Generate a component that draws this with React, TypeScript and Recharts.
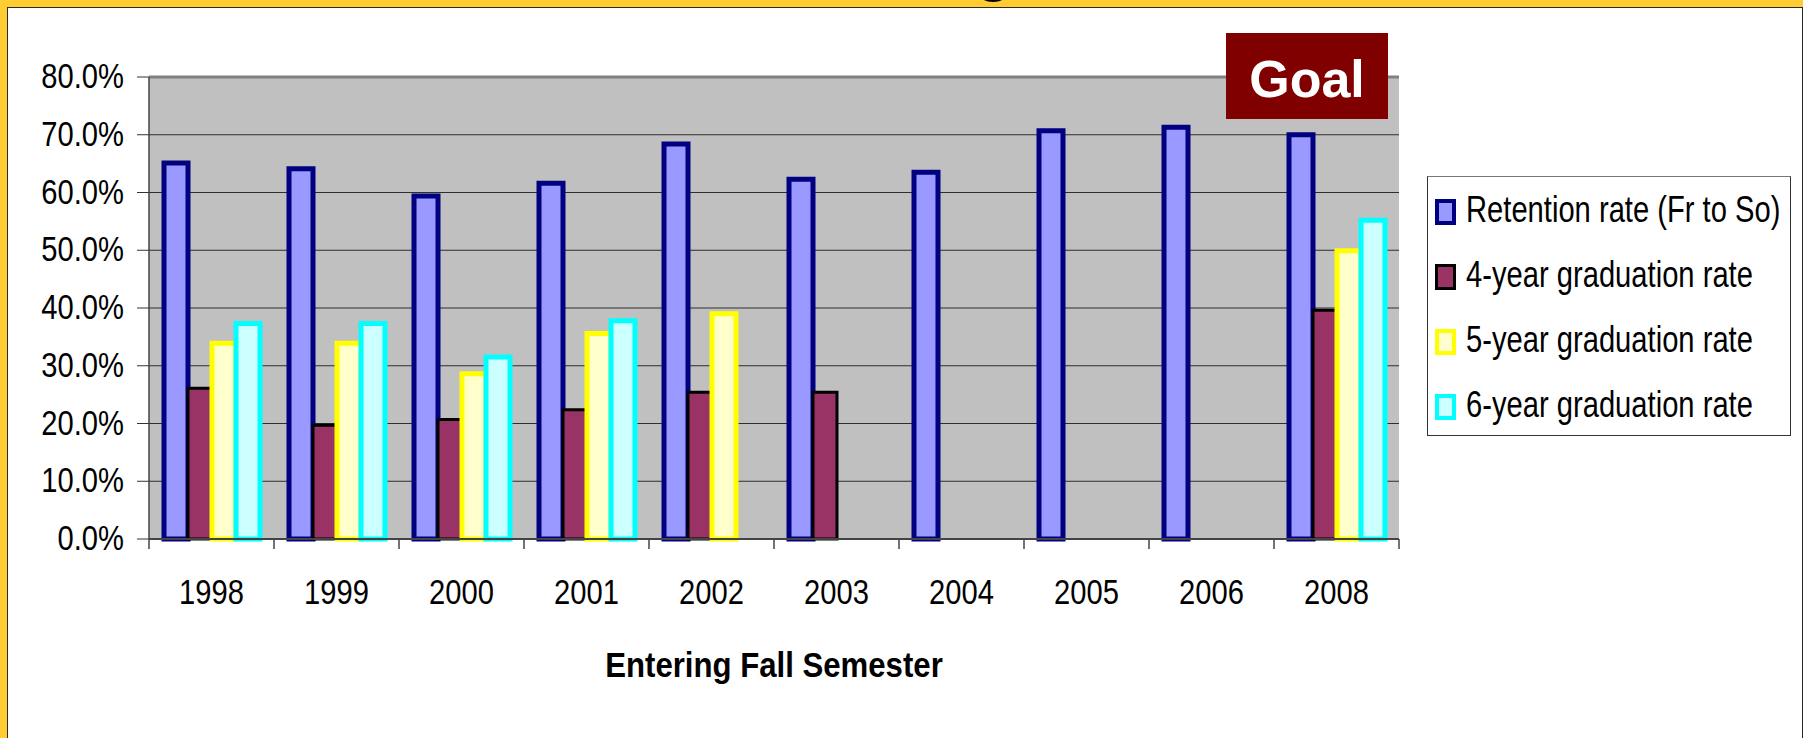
import { Bar, BarChart, CartesianGrid, Label, Legend, ReferenceLine, XAxis, YAxis } from "recharts";

const FONT = "'Liberation Sans', Arial, sans-serif";

const years = ["1998", "1999", "2000", "2001", "2002", "2003", "2004", "2005", "2006", "2008"];
const retention = [65.1, 64.1, 59.4, 61.6, 68.4, 62.3, 63.5, 70.7, 71.3, 70.0];
const fourYear = [26.1, 19.7, 20.7, 22.4, 25.4, 25.4, null, null, null, 39.6];
const fiveYear = [33.9, 33.9, 28.6, 35.6, 39.0, null, null, null, null, 49.9];
const sixYear = [37.3, 37.3, 31.5, 37.8, null, null, null, null, null, 55.2];
const yTicks = [0, 10, 20, 30, 40, 50, 60, 70, 80];

const series = [
  { key: "retention", name: "Retention rate (Fr to So)", fill: "#9999ff", stroke: "#000080", sw: 5 },
  { key: "fourYear", name: "4-year graduation rate", fill: "#993366", stroke: "#000000", sw: 3 },
  { key: "fiveYear", name: "5-year graduation rate", fill: "#ffffcc", stroke: "#ffff00", sw: 5 },
  { key: "sixYear", name: "6-year graduation rate", fill: "#ccffff", stroke: "#00ffff", sw: 5 },
];

const data = years.map((year, i) => ({
  year,
  retention: retention[i],
  fourYear: fourYear[i],
  fiveYear: fiveYear[i],
  sixYear: sixYear[i],
}));

function YTick(props: any) {
  const { x, y, payload } = props;
  return (
    <g transform={`translate(${x},${y})`}>
      <text transform="scale(0.81,1)" textAnchor="end" dy={11} fontSize={36} fontFamily={FONT} fill="#000">
        {`${Number(payload.value).toFixed(1)}%`}
      </text>
    </g>
  );
}

function XTick(props: any) {
  const { x, y, payload, index, visibleTicksCount, width } = props;
  const count = visibleTicksCount || years.length;
  const band = (width || 1250) / count;
  const left = x - band / 2;
  return (
    <g>
      <line x1={left} x2={left} y1={y} y2={y + 10} stroke="#444" strokeWidth={1.5} />
      {index === count - 1 && (
        <line x1={left + band} x2={left + band} y1={y} y2={y + 10} stroke="#444" strokeWidth={1.5} />
      )}
      <g transform={`translate(${x},${y + 65})`}>
        <text transform="scale(0.81,1)" textAnchor="middle" fontSize={36} fontFamily={FONT} fill="#000">
          {payload.value}
        </text>
      </g>
    </g>
  );
}

function AxisTitle(props: any) {
  const vb = props.viewBox || { x: 149, y: 539, width: 1250 };
  return (
    <g transform={`translate(${vb.x + vb.width / 2},${vb.y + 138})`}>
      <text transform="scale(0.89,1)" textAnchor="middle" fontSize={35} fontWeight="bold" fontFamily={FONT} fill="#000">
        Entering Fall Semester
      </text>
    </g>
  );
}

function LegendBox() {
  return (
    <div
      style={{
        width: 364,
        height: 260,
        boxSizing: "border-box",
        border: "1px solid #333",
        borderTopColor: "#777",
        background: "#fff",
        fontFamily: FONT,
      }}
    >
      {series.map((s) => (
        <div key={s.key} style={{ height: 65, display: "flex", alignItems: "center", paddingLeft: 7 }}>
          <span
            style={{
              width: 21,
              height: 26,
              boxSizing: "border-box",
              border: `${s.sw === 3 ? 3 : 4}px solid ${s.stroke}`,
              background: s.fill,
              display: "inline-block",
              flex: "none",
              marginTop: 4,
            }}
          />
          <span
            style={{
              marginLeft: 10,
              fontSize: 36,
              lineHeight: "65px",
              whiteSpace: "nowrap",
              display: "inline-block",
              transform: "scaleX(0.81)",
              transformOrigin: "left center",
              color: "#000",
            }}
          >
            {s.name}
          </span>
        </div>
      ))}
    </div>
  );
}

export default function App() {
  return (
    <div style={{ position: "relative", width: 1803, height: 738, background: "#fff", overflow: "hidden" }}>
      <style>{"body{margin:0}"}</style>
      <BarChart
        width={1803}
        height={738}
        data={data}
        margin={{ top: 77, right: 404, bottom: 0, left: 0 }}
        barCategoryGap="12%"
        barGap={0}
      >
        <CartesianGrid vertical={false} fill="#c0c0c0" fillOpacity={1} stroke="#2e2e2e" strokeWidth={1.2} />
        <XAxis
          dataKey="year"
          height={199}
          axisLine={{ stroke: "#444", strokeWidth: 2 }}
          tickLine={false}
          tickSize={0}
          tickMargin={0}
          tick={<XTick />}
          interval={0}
        >
          <Label content={<AxisTitle />} />
        </XAxis>
        <YAxis
          width={149}
          domain={[0, 80]}
          ticks={yTicks}
          interval={0}
          axisLine={{ stroke: "#444", strokeWidth: 1.5 }}
          tickLine={{ stroke: "#333" }}
          tickSize={12}
          tickMargin={13}
          tick={<YTick />}
        />
        <YAxis
          yAxisId="r"
          orientation="right"
          width={0}
          domain={[0, 80]}
          tick={false}
          tickLine={false}
          axisLine={{ stroke: "#808080", strokeWidth: 2.5 }}
        />
        <ReferenceLine y={80} stroke="#808080" strokeWidth={3} />
        {series.map((s) => (
          <Bar
            key={s.key}
            dataKey={s.key}
            name={s.name}
            fill={s.fill}
            stroke={s.stroke}
            strokeWidth={s.sw}
            isAnimationActive={false}
          />
        ))}
        <Legend
          layout="vertical"
          align="center"
          verticalAlign="middle"
          content={() => <LegendBox />}
          wrapperStyle={{ left: 1427, top: 176, width: 364, height: 260 }}
        />
      </BarChart>

      <div
        style={{
          position: "absolute",
          left: 1226,
          top: 33,
          width: 162,
          height: 86,
          boxSizing: "border-box",
          paddingTop: 5,
          background: "#800000",
          color: "#fff",
          fontFamily: FONT,
          fontWeight: "bold",
          fontSize: 52,
          display: "flex",
          alignItems: "center",
          justifyContent: "center",
        }}
      >
        Goal
      </div>

      <div style={{ position: "absolute", left: 0, top: 0, width: 1803, height: 7, background: "#ffcc33" }} />
      <div style={{ position: "absolute", left: 0, top: 0, width: 7, height: 738, background: "#ffcc33" }} />
      <div style={{ position: "absolute", left: 7, top: 7, width: 1796, height: 1, background: "#2a2a1a" }} />
      <div style={{ position: "absolute", left: 7, top: 7, width: 1, height: 731, background: "#2a2a1a" }} />
      <div style={{ position: "absolute", left: 1802, top: 7, width: 1, height: 731, background: "#2a2a1a" }} />
      <svg style={{ position: "absolute", left: 960, top: 0 }} width={60} height={7}>
        <text x={16} y={-10} fontSize={58} fontWeight="bold" fontFamily={FONT} fill="#000">
          g
        </text>
      </svg>
    </div>
  );
}
